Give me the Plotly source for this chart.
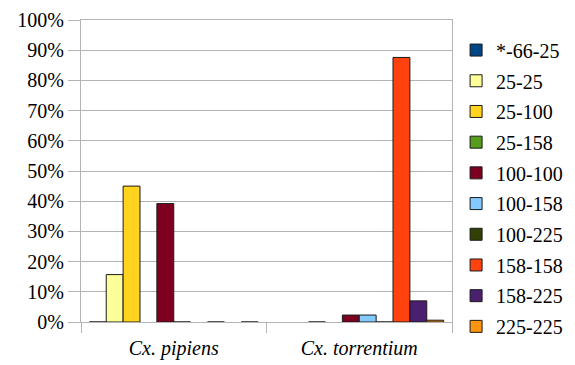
import plotly.graph_objects as go

categories = ["Cx. pipiens", "Cx. torrentium"]
category_labels = ["<i>Cx. pipiens</i>", "<i>Cx. torrentium</i>"]

series_names = ["*-66-25", "25-25", "25-100", "25-158", "100-100",
                "100-158", "100-225", "158-158", "158-225", "225-225"]

# percentage values per series: [Cx. pipiens, Cx. torrentium]; None = no bar
s_66_25 = [0, None]
s_25_25 = [15.7, None]
s_25_100 = [45.0, 0]
s_25_158 = [None, None]
s_100_100 = [39.2, 2.3]
s_100_158 = [0, 2.3]
s_100_225 = [None, 0]
s_158_158 = [0, 87.6]
s_158_225 = [None, 7.0]
s_225_225 = [0, 0.6]

series_values = [s_66_25, s_25_25, s_25_100, s_25_158, s_100_100,
                 s_100_158, s_100_225, s_158_158, s_158_225, s_225_225]

colors = ["#004586", "#ffff99", "#ffd320", "#579d1c", "#7e0021",
          "#83caff", "#314004", "#ff420e", "#4b1f6f", "#ff950e"]

y_ticks = [0, 10, 20, 30, 40, 50, 60, 70, 80, 90, 100]
y_tick_labels = ["0%", "10%", "20%", "30%", "40%", "50%", "60%", "70%",
                 "80%", "90%", "100%"]

FONT = "Liberation Serif"
FS = 20

fig = go.Figure()
for name, vals, col in zip(series_names, series_values, colors):
    fig.add_trace(go.Bar(
        x=categories, y=vals, name=name, legendgroup=name,
        marker=dict(color=col, line=dict(color="#1a1a1a", width=1)),
    ))

fig.update_layout(
    width=567, height=357,
    margin=dict(l=73, r=123, t=12, b=43, autoexpand=False),
    paper_bgcolor="white", plot_bgcolor="white",
    barmode="group", bargap=0.09, bargroupgap=0,
    font=dict(family=FONT, size=FS, color="black"),
    legend=dict(x=1.011, xanchor="left", xref="paper", y=0.965, yanchor="top",
                traceorder="grouped", tracegroupgap=1.7, maxheight=400,
                font=dict(family=FONT, size=FS, color="black"),
                bgcolor="rgba(0,0,0,0)"),
    showlegend=True,
)
fig.update_xaxes(
    tickvals=categories, ticktext=category_labels,
    tickson="boundaries", ticks="outside", ticklen=10, tickcolor="#b3b3b3",
    ticklabelstandoff=8,
    showline=True, linecolor="#b3b3b3", linewidth=1, mirror=True,
    showgrid=False, tickfont=dict(family=FONT, size=FS, color="black"),
)
fig.update_yaxes(
    range=[0, 100], tickvals=y_ticks, ticktext=y_tick_labels,
    ticks="outside", ticklen=12, tickcolor="#b3b3b3",
    showline=True, linecolor="#b3b3b3", linewidth=1, mirror=True,
    showgrid=True, gridcolor="#b3b3b3", gridwidth=1, zeroline=False,
    tickfont=dict(family=FONT, size=FS, color="black"),
)

fig.write_html("out.html")
